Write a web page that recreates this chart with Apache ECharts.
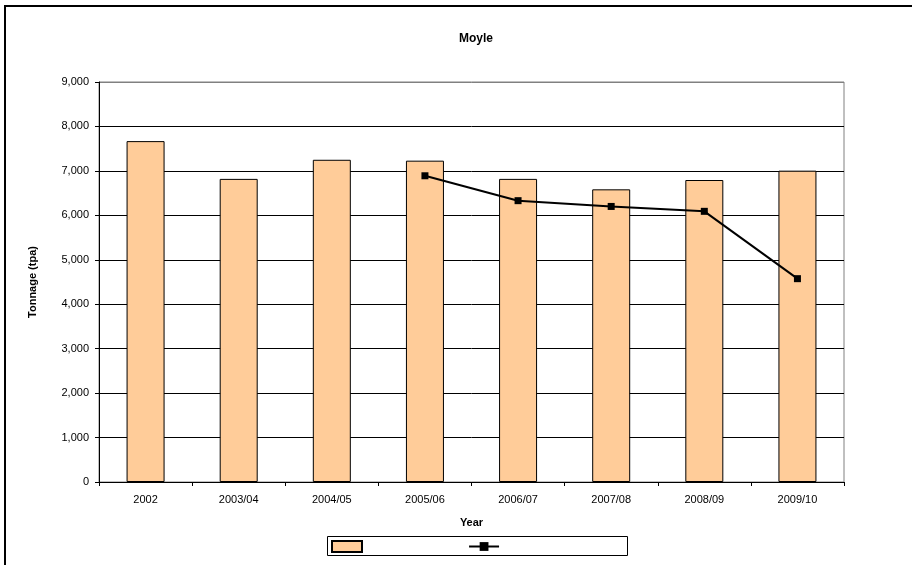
<!DOCTYPE html>
<html>
<head>
<meta charset="utf-8">
<script src="https://cdn.jsdelivr.net/npm/echarts@6/dist/echarts.min.js"></script>
<style>
  html, body { margin: 0; padding: 0; background: #fff; }
  #chart { width: 912px; height: 565px; }
</style>
</head>
<body>
<div id="chart"></div>
<script>
var years = ['2002', '2003/04', '2004/05', '2005/06', '2006/07', '2007/08', '2008/09', '2009/10'];
var tonnage = [7670, 6820, 7250, 7230, 6820, 6585, 6795, 7005];
var trend = [null, null, null, 6890, 6330, 6200, 6090, 4575];
var yTicks = [0, 9000, 1000]; // min, max, interval

var font = '"Liberation Sans", Arial, sans-serif';
var chart = echarts.init(document.getElementById('chart'));

// gridlines black, top one (plot border) grey
var gridColors = [];
for (var i = yTicks[0]; i < yTicks[1]; i += yTicks[2]) gridColors.push('#000');
gridColors.push('#808080');

var option = {
    animation: false,
    textStyle: { fontFamily: font },
    title: {
        text: 'Moyle',
        left: 471, textAlign: 'center',
        top: 28,
        textStyle: { fontSize: 12, fontWeight: 'bold', color: '#000', fontFamily: font }
    },
    grid: { left: 99, right: 68, top: 82, bottom: 83, show: true, borderColor: '#808080', borderWidth: 1 },
    legend: {
        left: 326, top: 535,
        itemGap: 98,
        itemWidth: 30, itemHeight: 11,
        data: [{ name: ' ', icon: 'rect' }, { name: '  ' }],
        textStyle: { fontSize: 11 }
    },
    xAxis: {
        type: 'category',
        data: years,
        name: 'Year',
        nameLocation: 'middle',
        nameGap: 35,
        nameTextStyle: { fontSize: 11, fontWeight: 'bold', color: '#000' },
        axisLine: { lineStyle: { color: '#000', width: 1 } },
        axisTick: { show: true, alignWithLabel: false, length: 4, lineStyle: { color: '#000' } },
        axisLabel: { fontSize: 11, color: '#000', margin: 12 }
    },
    yAxis: {
        type: 'value',
        min: yTicks[0], max: yTicks[1], interval: yTicks[2],
        name: 'Tonnage (tpa)',
        nameLocation: 'middle',
        nameGap: 61,
        nameRotate: 90,
        nameTextStyle: { fontSize: 11, fontWeight: 'bold', color: '#000' },
        axisLine: { show: true, lineStyle: { color: '#000', width: 1 } },
        axisTick: { show: true, length: 4, lineStyle: { color: '#000' } },
        axisLabel: {
            fontSize: 11, color: '#000', margin: 10,
            formatter: function (v) { return v.toLocaleString('en-US'); }
        },
        splitLine: { show: true, lineStyle: { width: 1, color: gridColors } }
    },
    series: [
        {
            name: ' ',
            type: 'bar',
            data: tonnage,
            barWidth: 38,
            itemStyle: { color: '#FFCC99', borderColor: '#000', borderWidth: 1 }
        },
        {
            name: '  ',
            type: 'line',
            data: trend,
            symbol: 'rect',
            symbolSize: 7,
            lineStyle: { color: '#000', width: 2 },
            itemStyle: { color: '#000' }
        }
    ],
    graphic: [
        {
            type: 'rect',
            shape: { x: 5, y: 6, width: 940, height: 620 },
            style: { fill: 'none', stroke: '#000', lineWidth: 2 },
            silent: true
        },
        {
            type: 'rect',
            shape: { x: 327.5, y: 536.5, width: 300, height: 19 },
            style: { fill: 'none', stroke: '#000', lineWidth: 1 },
            silent: true
        }
    ]
};

chart.setOption(option);
</script>
</body>
</html>
